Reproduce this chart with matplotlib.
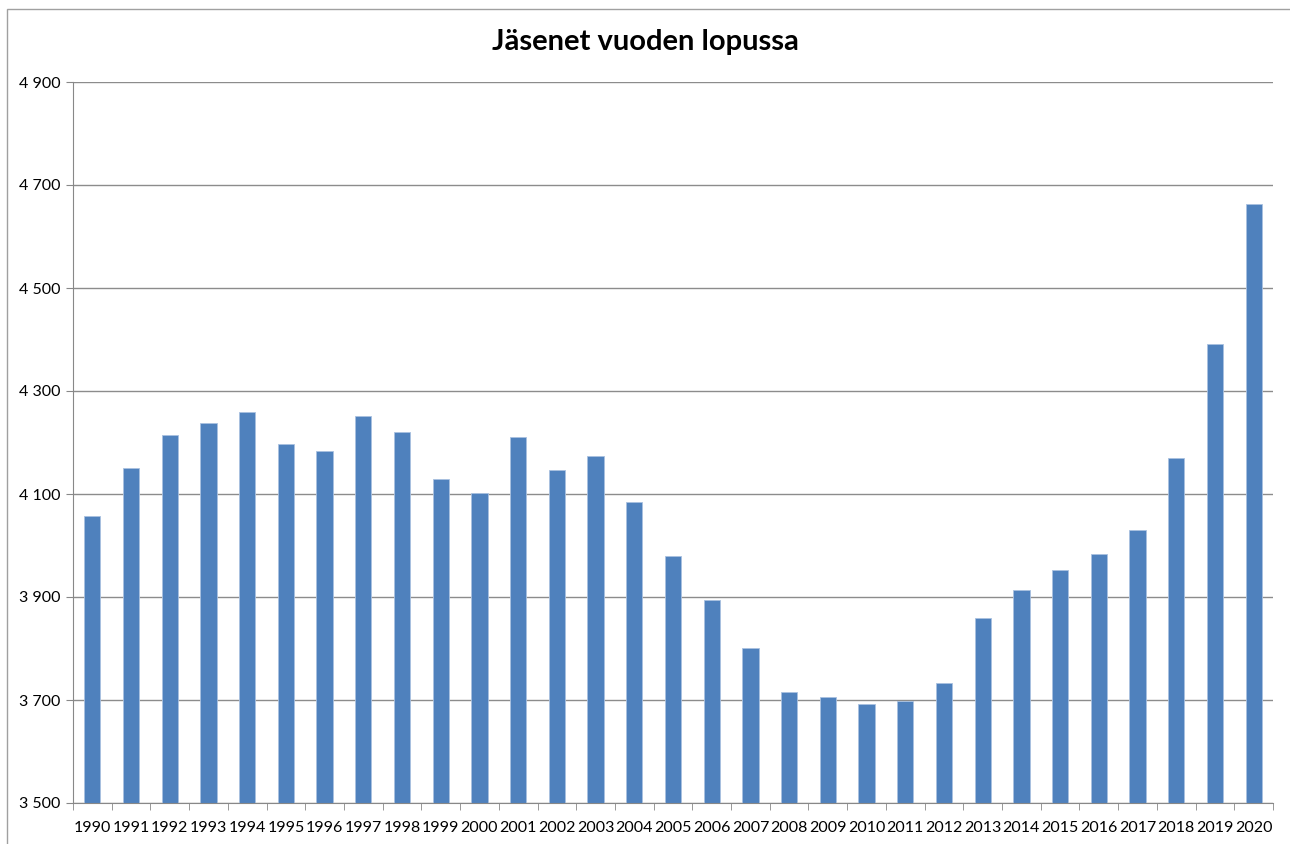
import matplotlib
matplotlib.use("Agg")
import matplotlib.pyplot as plt
from matplotlib.patches import Rectangle
import numpy as np

years = [str(y) for y in range(1990, 2021)]
members = [4057, 4150, 4215, 4238, 4259, 4197, 4183, 4251, 4220, 4129,
           4102, 4211, 4147, 4174, 4084, 3980, 3894, 3801, 3716, 3706,
           3692, 3698, 3733, 3859, 3914, 3952, 3983, 4030, 4170, 4391,
           4663]
y_ticks = [3500, 3700, 3900, 4100, 4300, 4500, 4700, 4900]
y_labels = ["3 500", "3 700", "3 900", "4 100", "4 300", "4 500", "4 700", "4 900"]
title = "Jäsenet vuoden lopussa"

plt.rcParams["font.family"] = ["Lato", "DejaVu Sans"]

fig = plt.figure(figsize=(12.9, 8.44), dpi=100)
# outer chart frame (Excel style)
fig.add_artist(Rectangle((7 / 1290, -0.05), 1.2, 1 - 9 / 844 + 0.05,
                         transform=fig.transFigure, fill=False,
                         edgecolor="#a0a0a0", lw=1.0))

ax = fig.add_axes([73 / 1290, 1 - 803 / 844, 1200 / 1290, 721 / 844])
x = np.arange(len(years))
ax.bar(x, [m - 3500 for m in members], bottom=3500, width=0.42,
       color="#4F81BD", edgecolor="#a9c1e0", linewidth=0.6, zorder=3)

ax.set_xlim(-0.5, len(years) - 0.5)
ax.set_ylim(3500, 4900)
ax.set_yticks(y_ticks)
ax.set_yticklabels(y_labels, fontsize=11.5)
ax.set_xticks(x)
ax.set_xticklabels(years, fontsize=11.5)
ax.tick_params(axis="x", length=0, pad=13)
ax.tick_params(axis="y", length=5, color="#888888", pad=4)
# category separator ticks on x axis
ax.set_xticks(np.arange(-0.5, len(years)), minor=True)
ax.tick_params(axis="x", which="minor", length=5, color="#888888")

ax.grid(axis="y", color="#8c8c8c", lw=1.0, zorder=0)
for s in ["top", "right"]:
    ax.spines[s].set_visible(False)
for s in ["left", "bottom"]:
    ax.spines[s].set_color("#888888")
ax.spines["bottom"].set_zorder(4)

fig.text(0.5, 1 - 42 / 844, title, ha="center", va="center",
         fontsize=21, fontweight="bold")

fig.savefig("out.png", dpi=100)
